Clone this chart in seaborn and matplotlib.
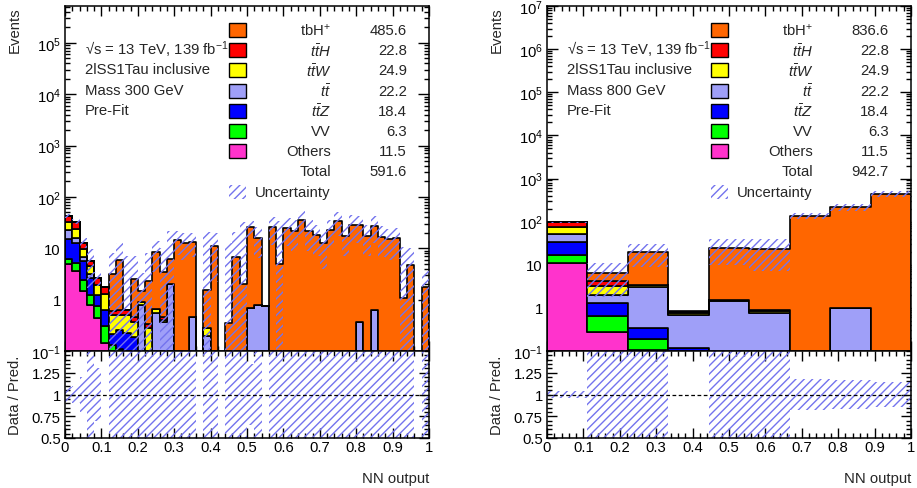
import numpy as np
import pandas as pd
import matplotlib
matplotlib.use("Agg")
import matplotlib.pyplot as plt
import seaborn as sns
from matplotlib.ticker import FixedLocator, FixedFormatter, MultipleLocator, LogLocator, NullFormatter
from matplotlib.patches import Rectangle

# ---------------- data ----------------
processes = ["tbH+", "ttH", "ttW", "tt", "ttZ", "VV", "Others"]   # top -> bottom of stack
proc_labels = ["tbH$^{+}$", r"$t\bar{t}H$", r"$t\bar{t}W$", r"$t\bar{t}$", r"$t\bar{t}Z$", "VV", "Others"]
proc_colors = ["#ff6600", "#ff0000", "#ffff00", "#9f9ff8", "#0000ff", "#00ff00", "#ff33cc"]

yields_300 = ["485.6", "22.8", "24.9", "22.2", "18.4", "6.3", "11.5"]
total_300 = "591.6"
yields_800 = ["836.6", "22.8", "24.9", "22.2", "18.4", "6.3", "11.5"]
total_800 = "942.7"

# Mass 300 GeV: 50 bins in NN output [0,1]
m300_edges = [round(0.02 * i, 4) for i in range(51)]
m300_others = [4.9, 3.6, 1.46, 0.8, 0.44, 0.14] + [0] * 44
m300_vv = [1.2, 1.6, 1.0, 0.45, 0.3, 0.16, 0.13, 0.11] + [0] * 42
m300_ttz = [8.9, 7.7, 3.2, 1.4, 0.5, 0.32, 0.08, 0.15, 0.22, 0.19] + [0] * 40
m300_tt = [8.0, 3.1, 0.95, 0.45, 0, 0, 0, 0, 0, 0,
           0.8, 0, 0.56, 0.36, 2.0, 0, 0, 0.46, 0, 0.2,
           0, 0, 0, 0, 0, 0.69, 0.77, 0.75, 0, 0,
           0, 0, 0, 0, 0, 0, 0, 0, 0, 0,
           0.36, 0, 0.62, 0, 0, 0, 0, 0, 0, 0]
m300_ttw = [9.0, 7.6, 3.2, 1.4, 0.72, 0.68, 0.3, 0.24, 0.29, 0.17,
            0.09, 0.28, 0.1, 0.05, 0, 0, 0, 0, 0, 0.08] + [0] * 30
m300_tth = [11.0, 9.4, 3.1, 1.15, 0.7, 0.47, 0.08, 0.14, 0.13, 0.1,
            0, 0.06, 0, 0.05] + [0] * 36
m300_tbh = [0, 0, 0, 0, 0, 0, 2.6, 5.2, 0, 2.04,
            0.57, 1.96, 7.84, 2.94, 4.3, 14.6, 12.9, 12.84, 0, 1.29,
            11.1, 0, 0.35, 6.8, 2.0, 24.7, 15.4, 0, 26.0, 4.9,
            25.0, 21.9, 36.0, 21.9, 18.0, 12.9, 22.5, 34.0, 17.4, 28.7,
            27.6, 17.4, 26.9, 16.7, 15.0, 15.5, 1.07, 4.7, 0, 1.77]
m300_relunc = [0.085, 0.1, 0.2, 0.7, 0.3, 0.0, 1.5, 1.2, 10, 1.8,
               1.3, 2.5, 0.6, 2.0, 2.5, 0.5, 0.55, 0.5, 0, 12,
               0.8, 0, 35, 2.0, 15, 0.35, 0.6, 0.0, 0.55, 6,
               0.55, 0.6, 0.5, 0.6, 0.6, 0.7, 0.55, 0.5, 0.6, 0.55,
               0.55, 0.6, 0.55, 0.6, 0.6, 0.6, 9, 1.2, 0, 1.0]

# Mass 800 GeV: 9 bins in NN output [0,1]
m800_edges = [i / 9 for i in range(10)]
m800_others = [11.2, 0.275, 0.107, 0.01, 0, 0, 0, 0, 0]
m800_vv = [5.4, 0.365, 0.083, 0.01, 0, 0, 0, 0, 0]
m800_ttz = [18.0, 0.67, 0.15, 0.1, 0.02, 0, 0, 0, 0]
m800_tt = [16.0, 0.63, 2.76, 0.58, 1.46, 0.76, 0, 1.0, 0]
m800_ttw = [23.0, 1.36, 0.25, 0.08, 0.05, 0.1, 0, 0, 0]
m800_tth = [22.5, 0.9, 0.05, 0.02, 0.03, 0.04, 0, 0, 0]
m800_tbh = [0, 2.3, 15.85, 0.06, 23.5, 22.9, 137.0, 215.0, 440.0]
m800_relunc = [0.04, 0.72, 0.55, 0.0, 0.6, 0.7, 0.18, 0.17, 0.14]

HATCH = "#7373ee"

# ---------------- style ----------------
sns.set_theme(style="white")
plt.rcParams["font.family"] = ["Liberation Sans", "DejaVu Sans"]
plt.rcParams["mathtext.fontset"] = "custom"
plt.rcParams["mathtext.rm"] = "Liberation Sans"
plt.rcParams["mathtext.it"] = "Liberation Sans:italic"
plt.rcParams["mathtext.bf"] = "Liberation Sans:bold"
plt.rcParams["hatch.linewidth"] = 1.0
plt.rcParams["hatch.color"] = HATCH
FS = 10.7

fig = plt.figure(figsize=(9.17, 4.89), dpi=100)
W, H = 917.0, 489.0


def fig_axes(x0, y0, x1, y1):
    return fig.add_axes([x0 / W, 1 - y1 / H, (x1 - x0) / W, (y1 - y0) / H])


def style_axis(ax):
    for s in ax.spines.values():
        s.set_linewidth(1.1)
        s.set_color("black")
    ax.tick_params(which="both", direction="in", top=True, right=True,
                   bottom=True, left=True, colors="black", labelsize=FS, width=1.0)
    ax.tick_params(which="major", length=7)
    ax.tick_params(which="minor", length=3.5)
    ax.grid(False)


def draw_panel(x0, edges_list, comps, relunc, ymax, ytick_vals, ytick_labels, legend_vals, total_txt, mass_txt):
    ax = fig_axes(x0, 7, x0 + 364, 352)
    rax = fig_axes(x0, 352, x0 + 364, 439)

    edges = np.array(edges_list, dtype=float)
    centers = 0.5 * (edges[:-1] + edges[1:])
    rows = []
    for name, vals in zip(processes, comps):
        for c, v in zip(centers, vals):
            rows.append((float(c), float(v), name))
    df = pd.DataFrame(rows, columns=["x", "w", "process"])
    sns.histplot(data=df, x="x", weights="w", hue="process", hue_order=processes,
                 palette=proc_colors, bins=list(edges_list), multiple="stack", element="step",
                 fill=True, alpha=1, linewidth=1.2, edgecolor="black", legend=False, ax=ax)
    ax.set_yscale("log")
    ax.set_xlim(0, 1)
    ax.set_ylim(0.1, ymax)

    total = np.sum(np.array(comps, dtype=float), axis=0)
    rel = np.array(relunc, dtype=float)
    widths = np.diff(edges)
    mask = (total > 0) & (rel > 0)
    lo = np.maximum(total * (1 - rel), 1e-3)
    hi = total * (1 + rel)
    ax.bar(edges[:-1][mask], (hi - lo)[mask], bottom=lo[mask], width=widths[mask], align="edge",
           facecolor="none", edgecolor=HATCH, linewidth=0, hatch="////", zorder=3)

    rlo = np.maximum(1 - rel, 0.3)
    rhi = np.minimum(1 + rel, 1.7)
    rax.bar(edges[:-1][mask], (rhi - rlo)[mask], bottom=rlo[mask], width=widths[mask], align="edge",
            facecolor="none", edgecolor=HATCH, linewidth=0, hatch="////", zorder=2)
    rax.axhline(1.0, color="black", lw=0.9, ls=(0, (3, 2)), zorder=4)
    rax.set_xlim(0, 1)
    rax.set_ylim(0.5, 1.5)

    style_axis(ax)
    style_axis(rax)
    ax.yaxis.set_major_locator(FixedLocator(ytick_vals))
    ax.yaxis.set_major_formatter(FixedFormatter(ytick_labels))
    ax.yaxis.set_minor_locator(LogLocator(base=10, subs=np.arange(2, 10), numticks=50))
    ax.yaxis.set_minor_formatter(NullFormatter())
    ax.tick_params(axis="y", which="major", length=8, pad=3)
    for a in (ax, rax):
        a.xaxis.set_major_locator(MultipleLocator(0.1))
        a.xaxis.set_minor_locator(MultipleLocator(0.02))
    ax.tick_params(axis="x", labelbottom=False)
    ax.set_xlabel("")
    rax.set_xticks(np.round(np.arange(0, 1.01, 0.1), 1))
    rax.set_xticklabels(["0", "0.1", "0.2", "0.3", "0.4", "0.5", "0.6", "0.7", "0.8", "0.9", "1"])
    rax.tick_params(axis="x", pad=1.5)
    rax.yaxis.set_major_locator(FixedLocator([0.5, 0.75, 1.0, 1.25]))
    rax.yaxis.set_major_formatter(FixedFormatter(["0.5", "0.75", "1", "1.25"]))
    rax.yaxis.set_minor_locator(MultipleLocator(0.05))
    rax.tick_params(axis="y", pad=3)

    ax.set_ylabel("Events", fontsize=FS, loc="top")
    ax.yaxis.set_label_coords(-0.118, 1.0)
    rax.set_ylabel("Data / Pred.", fontsize=FS)
    rax.yaxis.set_label_coords(-0.118, 0.5)
    rax.set_xlabel("NN output", fontsize=FS, loc="right", labelpad=12)

    # annotation text
    tx = 20 / 364
    for i, t in enumerate(["\u221as = 13 TeV, 139 fb$^{-1}$", "2lSS1Tau inclusive", mass_txt, "Pre-Fit"]):
        yc = 50 + 20.3 * i
        ax.text(tx, 1 - (yc - 7) / 345, t, transform=ax.transAxes, fontsize=FS, va="center", ha="left")

    # legend
    for i in range(9):
        yc = 31 + 20.2 * i
        yf = 1 - (yc - 7) / 345
        if i < 7:
            ax.add_patch(Rectangle((164 / 364, yf - 7 / 345), 17 / 364, 14 / 345, transform=ax.transAxes,
                                   facecolor=proc_colors[i], edgecolor="black", lw=1.0, zorder=5, clip_on=False))
            ax.text(266 / 364, yf, proc_labels[i], transform=ax.transAxes, fontsize=FS, ha="right", va="center")
            ax.text(342 / 364, yf, legend_vals[i], transform=ax.transAxes, fontsize=FS, ha="right", va="center")
        elif i == 7:
            ax.text(266 / 364, yf, "Total", transform=ax.transAxes, fontsize=FS, ha="right", va="center")
            ax.text(342 / 364, yf, total_txt, transform=ax.transAxes, fontsize=FS, ha="right", va="center")
        else:
            ax.add_patch(Rectangle((164 / 364, yf - 7 / 345), 17 / 364, 14 / 345, transform=ax.transAxes,
                                   facecolor="none", edgecolor=HATCH, lw=0, hatch="////", zorder=5, clip_on=False))
            ax.text(266 / 364, yf, "Uncertainty", transform=ax.transAxes, fontsize=FS, ha="right", va="center")
    return ax, rax


m300_comps = [m300_tbh, m300_tth, m300_ttw, m300_tt, m300_ttz, m300_vv, m300_others]
m800_comps = [m800_tbh, m800_tth, m800_ttw, m800_tt, m800_ttz, m800_vv, m800_others]

draw_panel(65, m300_edges, m300_comps, m300_relunc, 5.2e5,
           [0.1, 1, 10, 1e2, 1e3, 1e4, 1e5],
           ["$10^{-1}$", "1", "10", "$10^{2}$", "$10^{3}$", "$10^{4}$", "$10^{5}$"],
           yields_300, total_300, "Mass 300 GeV")
draw_panel(547, m800_edges, m800_comps, m800_relunc, 1e7,
           [0.1, 1, 10, 1e2, 1e3, 1e4, 1e5, 1e6, 1e7],
           ["$10^{-1}$", "1", "10", "$10^{2}$", "$10^{3}$", "$10^{4}$", "$10^{5}$", "$10^{6}$", "$10^{7}$"],
           yields_800, total_800, "Mass 800 GeV")

fig.savefig("out.png", dpi=100)
